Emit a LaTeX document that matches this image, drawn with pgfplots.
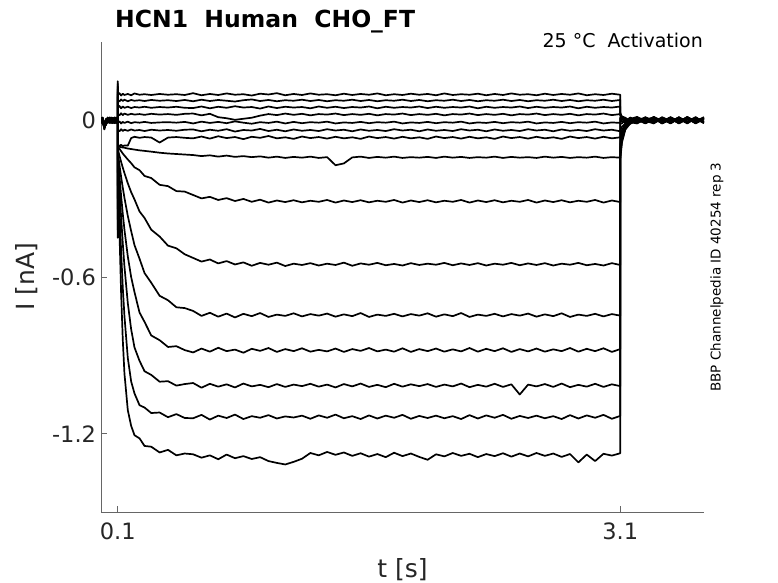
\documentclass[border=0pt]{standalone}
\usepackage{pgfplots}
\pgfplotsset{compat=1.18}
\usepackage{pgfplotstable}
\usepackage{fontspec}
\setmainfont{DejaVu Sans}
\definecolor{axgray}{gray}{0.4}
\definecolor{txt}{gray}{0.15}

\pgfplotstableread{
t c1 c2 c3 c4 c5 c6 c7 c8 c9 c10 c11 c12 c13 c14 c15
0.00 0.006 -0.004 0.010 -0.008 0.002 -0.011 0.005 0.009 -0.003 -0.010 0.007 0.000 0.004 -0.009 0.011
0.01 -0.005 0.008 -0.002 0.011 -0.009 0.004 -0.007 0.001 0.010 -0.006 0.003 -0.011 0.008 0.002 -0.004
0.02 -0.020 -0.028 -0.015 -0.032 -0.022 -0.018 -0.030 -0.025 -0.012 -0.027 -0.035 -0.019 -0.024 -0.016 -0.029
0.03 -0.010 0.003 -0.018 -0.006 0.002 -0.014 0.006 -0.009 -0.003 -0.016 0.001 -0.008 -0.012 0.004 -0.005
0.04 0.008 -0.006 0.004 0.010 -0.008 0.006 -0.002 0.011 -0.007 0.003 0.009 -0.004 0.000 -0.010 0.007
0.05 -0.003 0.009 -0.007 0.001 0.011 -0.005 0.008 -0.010 0.004 0.006 -0.009 0.010 -0.002 0.005 -0.008
0.06 0.010 -0.001 0.006 -0.009 0.004 0.008 -0.011 0.003 0.009 -0.004 0.002 -0.007 0.011 -0.003 0.001
0.07 -0.008 0.005 -0.010 0.007 -0.003 0.001 0.009 -0.006 -0.011 0.010 -0.005 0.004 -0.009 0.008 0.003
0.08 0.002 -0.009 0.011 -0.004 0.008 -0.010 0.003 0.007 0.001 -0.008 0.010 -0.002 0.005 -0.011 0.009
0.09 -0.006 0.004 -0.003 0.009 -0.011 0.007 -0.005 0.000 0.006 0.003 -0.007 0.011 -0.010 0.002 -0.004
0.10 0.004 -0.002 0.007 -0.005 0.003 -0.008 0.010 -0.004 0.002 0.008 -0.003 0.005 -0.006 0.009 -0.001
0.1001 0.150 0.140 0.130 0.120 0.110 0.100 0.090 -0.150 -0.200 -0.250 -0.300 -0.340 -0.380 -0.420 -0.450
0.102 0.099 0.076 0.050 0.023 -0.008 -0.038 -0.095 -0.100 -0.102 -0.115 -0.131 -0.140 -0.150 -0.170 -0.200
0.11 0.104 0.072 0.055 0.019 -0.004 -0.042 -0.098 -0.101 -0.109 -0.135 -0.170 -0.210 -0.250 -0.330 -0.420
0.12 0.095 0.080 0.046 0.027 -0.012 -0.034 -0.094 -0.103 -0.118 -0.159 -0.216 -0.288 -0.370 -0.500 -0.660
0.13 0.102 0.074 0.053 0.020 -0.006 -0.041 -0.099 -0.104 -0.127 -0.181 -0.258 -0.358 -0.470 -0.640 -0.840
0.14 0.097 0.079 0.048 0.026 -0.010 -0.036 -0.096 -0.105 -0.135 -0.202 -0.297 -0.419 -0.560 -0.750 -0.970
0.16 0.101 0.073 0.052 0.021 -0.005 -0.040 -0.097 -0.108 -0.150 -0.241 -0.366 -0.521 -0.700 -0.910 -1.110
0.18 0.096 0.078 0.047 0.025 -0.011 -0.035 -0.068 -0.110 -0.164 -0.275 -0.424 -0.600 -0.800 -1.000 -1.170
0.20 0.103 0.075 0.051 0.022 -0.007 -0.039 -0.063 -0.112 -0.180 -0.303 -0.478 -0.658 -0.870 -1.046 -1.206
0.23 0.098 0.077 0.049 0.024 -0.009 -0.037 -0.067 -0.115 -0.191 -0.349 -0.530 -0.736 -0.921 -1.091 -1.218
0.26 0.100 0.074 0.052 0.021 -0.006 -0.041 -0.064 -0.117 -0.213 -0.374 -0.585 -0.772 -0.961 -1.100 -1.247
0.30 0.097 0.078 0.048 0.025 -0.010 -0.036 -0.066 -0.120 -0.221 -0.419 -0.622 -0.824 -0.975 -1.121 -1.250
0.35 0.101 0.075 0.051 0.022 -0.008 -0.039 -0.085 -0.124 -0.247 -0.445 -0.672 -0.842 -1.001 -1.119 -1.272
0.40 0.098 0.077 0.049 0.024 -0.007 -0.037 -0.066 -0.127 -0.252 -0.480 -0.689 -0.868 -0.999 -1.137 -1.262
0.45 0.100 0.074 0.052 0.021 -0.009 -0.040 -0.064 -0.129 -0.271 -0.490 -0.716 -0.865 -1.016 -1.125 -1.283
0.50 0.097 0.078 0.048 0.025 -0.006 -0.036 -0.067 -0.131 -0.273 -0.513 -0.719 -0.880 -1.010 -1.140 -1.276
0.55 0.104 0.073 0.047 0.026 -0.012 -0.035 -0.069 -0.133 -0.286 -0.527 -0.730 -0.889 -1.006 -1.141 -1.279
0.60 0.096 0.079 0.053 0.019 -0.005 -0.042 -0.062 -0.137 -0.299 -0.541 -0.749 -0.874 -1.024 -1.128 -1.292
0.65 0.101 0.074 0.046 0.025 -0.010 -0.036 -0.070 -0.134 -0.293 -0.533 -0.737 -0.886 -1.009 -1.146 -1.283
0.70 0.097 0.078 0.052 0.012 -0.006 -0.040 -0.061 -0.139 -0.305 -0.548 -0.752 -0.871 -1.020 -1.131 -1.298
0.75 0.103 0.075 0.048 0.008 -0.011 -0.034 -0.068 -0.135 -0.298 -0.539 -0.740 -0.884 -1.011 -1.140 -1.280
0.80 0.098 0.072 0.054 0.002 -0.004 -0.043 -0.064 -0.140 -0.309 -0.552 -0.755 -0.878 -1.023 -1.127 -1.294
0.85 0.100 0.077 0.049 0.006 -0.009 -0.037 -0.072 -0.137 -0.301 -0.544 -0.741 -0.890 -1.008 -1.144 -1.286
0.90 0.095 0.080 0.051 0.010 -0.013 -0.039 -0.063 -0.141 -0.312 -0.557 -0.750 -0.875 -1.019 -1.133 -1.297
0.95 0.102 0.074 0.045 0.018 -0.007 -0.033 -0.067 -0.138 -0.304 -0.546 -0.738 -0.883 -1.013 -1.139 -1.290
1.00 0.099 0.078 0.053 0.024 -0.010 -0.041 -0.060 -0.143 -0.315 -0.553 -0.753 -0.872 -1.022 -1.129 -1.305
1.05 0.104 0.073 0.047 0.020 -0.005 -0.036 -0.069 -0.139 -0.307 -0.545 -0.744 -0.887 -1.010 -1.142 -1.312
1.10 0.096 0.077 0.052 0.026 -0.012 -0.042 -0.065 -0.144 -0.313 -0.558 -0.749 -0.876 -1.021 -1.134 -1.318
1.15 0.101 0.075 0.049 0.021 -0.006 -0.035 -0.071 -0.140 -0.306 -0.549 -0.739 -0.884 -1.012 -1.138 -1.308
1.20 0.097 0.079 0.051 0.025 -0.011 -0.040 -0.062 -0.143 -0.314 -0.554 -0.751 -0.873 -1.018 -1.131 -1.296
1.25 0.103 0.074 0.046 0.019 -0.007 -0.037 -0.068 -0.139 -0.308 -0.547 -0.742 -0.886 -1.009 -1.143 -1.274
1.30 0.098 0.078 0.053 0.024 -0.009 -0.041 -0.064 -0.144 -0.312 -0.556 -0.748 -0.879 -1.020 -1.130 -1.283
1.35 0.100 0.073 0.048 0.022 -0.005 -0.034 -0.070 -0.141 -0.305 -0.549 -0.740 -0.885 -1.012 -1.139 -1.270
1.40 0.096 0.077 0.052 0.026 -0.012 -0.039 -0.063 -0.172 -0.315 -0.554 -0.752 -0.874 -1.023 -1.127 -1.281
1.45 0.102 0.075 0.047 0.020 -0.008 -0.036 -0.069 -0.165 -0.307 -0.545 -0.743 -0.887 -1.010 -1.141 -1.272
1.50 0.097 0.079 0.051 0.024 -0.010 -0.042 -0.065 -0.142 -0.313 -0.557 -0.750 -0.876 -1.019 -1.133 -1.285
1.55 0.101 0.074 0.049 0.021 -0.006 -0.035 -0.071 -0.139 -0.306 -0.548 -0.738 -0.883 -1.008 -1.144 -1.275
1.60 0.098 0.078 0.053 0.025 -0.011 -0.040 -0.062 -0.144 -0.314 -0.553 -0.753 -0.872 -1.021 -1.130 -1.288
1.65 0.103 0.073 0.046 0.019 -0.007 -0.037 -0.068 -0.140 -0.308 -0.546 -0.744 -0.885 -1.013 -1.142 -1.278
1.70 0.096 0.077 0.052 0.024 -0.009 -0.041 -0.064 -0.143 -0.312 -0.555 -0.749 -0.878 -1.022 -1.131 -1.290
1.75 0.100 0.075 0.048 0.022 -0.005 -0.034 -0.070 -0.139 -0.305 -0.550 -0.741 -0.886 -1.009 -1.139 -1.273
1.80 0.097 0.079 0.051 0.026 -0.012 -0.039 -0.063 -0.144 -0.315 -0.556 -0.751 -0.873 -1.020 -1.128 -1.286
1.85 0.102 0.074 0.049 0.020 -0.008 -0.036 -0.069 -0.141 -0.307 -0.547 -0.742 -0.887 -1.011 -1.143 -1.276
1.90 0.098 0.078 0.053 0.024 -0.010 -0.042 -0.065 -0.143 -0.313 -0.554 -0.748 -0.876 -1.018 -1.132 -1.289
1.95 0.101 0.073 0.047 0.021 -0.006 -0.035 -0.071 -0.140 -0.306 -0.549 -0.739 -0.884 -1.010 -1.140 -1.300
2.00 0.096 0.077 0.052 0.025 -0.011 -0.040 -0.062 -0.144 -0.314 -0.553 -0.752 -0.874 -1.021 -1.131 -1.279
2.05 0.103 0.075 0.048 0.019 -0.007 -0.037 -0.068 -0.139 -0.308 -0.546 -0.743 -0.886 -1.012 -1.141 -1.287
2.10 0.097 0.079 0.051 0.024 -0.009 -0.041 -0.064 -0.143 -0.312 -0.555 -0.750 -0.877 -1.019 -1.133 -1.274
2.15 0.100 0.074 0.049 0.022 -0.005 -0.034 -0.070 -0.140 -0.305 -0.548 -0.738 -0.885 -1.008 -1.144 -1.285
2.20 0.098 0.078 0.053 0.026 -0.012 -0.039 -0.063 -0.144 -0.315 -0.554 -0.753 -0.872 -1.022 -1.129 -1.277
2.25 0.102 0.073 0.046 0.020 -0.008 -0.036 -0.069 -0.141 -0.307 -0.547 -0.744 -0.886 -1.013 -1.142 -1.290
2.30 0.096 0.077 0.052 0.024 -0.010 -0.042 -0.065 -0.143 -0.313 -0.556 -0.749 -0.875 -1.020 -1.130 -1.278
2.35 0.101 0.075 0.048 0.021 -0.006 -0.035 -0.071 -0.139 -0.306 -0.549 -0.741 -0.884 -1.009 -1.139 -1.286
2.40 0.097 0.079 0.051 0.025 -0.011 -0.040 -0.062 -0.144 -0.314 -0.553 -0.751 -0.873 -1.021 -1.128 -1.275
2.45 0.103 0.074 0.049 0.019 -0.007 -0.037 -0.068 -0.140 -0.308 -0.546 -0.742 -0.887 -1.011 -1.143 -1.288
2.50 0.098 0.078 0.053 0.024 -0.009 -0.041 -0.064 -0.143 -0.312 -0.555 -0.748 -0.876 -1.050 -1.132 -1.276
2.55 0.100 0.073 0.047 0.022 -0.005 -0.034 -0.070 -0.141 -0.305 -0.548 -0.740 -0.885 -1.012 -1.140 -1.287
2.60 0.096 0.077 0.052 0.026 -0.012 -0.039 -0.063 -0.144 -0.315 -0.554 -0.752 -0.874 -1.019 -1.131 -1.274
2.65 0.102 0.075 0.048 0.020 -0.008 -0.036 -0.069 -0.139 -0.307 -0.547 -0.743 -0.886 -1.010 -1.141 -1.285
2.70 0.097 0.079 0.051 0.024 -0.010 -0.042 -0.065 -0.143 -0.313 -0.556 -0.750 -0.877 -1.021 -1.133 -1.276
2.75 0.101 0.074 0.049 0.021 -0.006 -0.035 -0.071 -0.140 -0.306 -0.549 -0.739 -0.884 -1.008 -1.144 -1.289
2.80 0.098 0.078 0.053 0.025 -0.011 -0.040 -0.062 -0.144 -0.314 -0.553 -0.753 -0.872 -1.022 -1.129 -1.278
2.85 0.103 0.073 0.046 0.019 -0.007 -0.037 -0.068 -0.141 -0.308 -0.546 -0.744 -0.886 -1.013 -1.142 -1.310
2.90 0.096 0.077 0.052 0.024 -0.009 -0.041 -0.064 -0.143 -0.312 -0.555 -0.749 -0.875 -1.020 -1.130 -1.280
2.95 0.100 0.075 0.048 0.022 -0.005 -0.034 -0.070 -0.139 -0.305 -0.550 -0.741 -0.884 -1.009 -1.139 -1.305
3.00 0.097 0.079 0.051 0.026 -0.012 -0.039 -0.063 -0.144 -0.315 -0.556 -0.751 -0.873 -1.021 -1.128 -1.277
3.05 0.102 0.074 0.049 0.020 -0.008 -0.036 -0.069 -0.141 -0.307 -0.547 -0.742 -0.887 -1.011 -1.143 -1.284
3.10 0.098 0.078 0.053 0.024 -0.010 -0.042 -0.065 -0.143 -0.313 -0.554 -0.748 -0.876 -1.018 -1.132 -1.275
3.1001 0.030 0.025 0.022 0.018 0.012 0.008 -0.010 -0.040 -0.070 -0.090 -0.110 -0.120 -0.130 -0.140 -0.150
3.11 0.012 0.008 0.015 0.005 0.010 -0.003 -0.012 -0.025 -0.038 -0.050 -0.058 -0.065 -0.072 -0.078 -0.085
3.13 0.006 -0.004 0.010 -0.007 0.003 -0.010 0.004 -0.012 -0.015 -0.020 -0.024 -0.028 -0.030 -0.033 -0.036
3.16 -0.008 0.011 -0.003 0.007 -0.012 0.005 -0.006 0.009 -0.004 -0.010 0.002 -0.013 -0.007 0.004 -0.011
3.20 0.010 -0.006 0.012 -0.010 0.004 0.013 -0.009 0.002 0.011 -0.005 0.008 0.001 -0.012 0.009 0.003
3.25 -0.005 0.009 -0.011 0.003 -0.008 -0.002 0.012 -0.010 -0.006 0.011 -0.004 0.010 0.005 -0.009 -0.012
3.30 0.012 -0.010 0.006 0.011 0.009 -0.012 -0.003 0.007 0.013 -0.008 0.010 -0.007 -0.004 0.012 0.006
3.35 -0.009 0.005 -0.004 -0.012 -0.006 0.010 0.008 -0.011 -0.002 0.006 -0.012 0.012 0.009 -0.005 -0.010
3.40 0.007 -0.012 0.011 0.004 0.012 -0.007 -0.010 0.010 0.008 -0.011 0.005 -0.003 -0.009 0.011 0.004
3.45 -0.011 0.008 -0.008 -0.009 -0.003 0.011 0.006 -0.005 -0.012 0.009 -0.007 0.011 0.012 -0.008 -0.006
3.50 0.009 -0.004 0.013 0.010 0.007 -0.009 -0.012 0.012 0.005 -0.006 0.011 -0.010 -0.005 0.010 0.012
3.55 -0.006 0.011 -0.007 -0.005 -0.011 0.006 0.009 -0.008 -0.010 0.012 -0.003 0.008 0.010 -0.012 -0.004
3.60 0.004 -0.008 0.010 0.008 0.005 -0.011 -0.004 0.006 0.009 -0.007 0.012 -0.006 -0.011 0.007 0.010
}\data

\begin{document}
\begin{tikzpicture}
\begin{axis}[
  name=ax, at={(0,0)}, anchor=south west,
  width=603bp, height=470bp, scale only axis,
  xmin=0, xmax=3.6, ymin=-1.5, ymax=0.3,
  axis x line*=bottom, axis y line*=left,
  axis line style={axgray, line width=0.6pt, -},
  xtick={0.1,3.1}, xticklabels={0.1,3.1},
  ytick={-1.2,-0.6,0}, yticklabels={-1.2,-0.6,0},
  tick align=inside, major tick length=6bp,
  tick style={axgray, line width=0.6pt},
  ticklabel style={font=\fontsize{22.5bp}{27bp}\selectfont, text=txt},
  xticklabel style={yshift=-7bp},
  yticklabel style={xshift=-1.5bp},
  clip=true,
]
\pgfplotsinvokeforeach{1,...,15}{
  \addplot[black, line width=1.7bp, line join=round] table[x index=0, y index=#1] {\data};
}
\end{axis}
\node[anchor=base west, inner sep=0, text=black, font=\fontsize{23.5bp}{28bp}\selectfont\bfseries]
  at ([xshift=14bp, yshift=14bp]ax.north west) {HCN1~~Human~~CHO\_FT};
\node[anchor=base east, inner sep=0, text=black, font=\fontsize{19bp}{23bp}\selectfont]
  at ([xshift=-1bp, yshift=-6bp]ax.north east) {25 °C~~Activation};
\node[rotate=90, inner sep=0, text=black, font=\fontsize{13.5bp}{16bp}\selectfont]
  at ([xshift=13bp]ax.east) {BBP Channelpedia ID 40254 rep 3};
\node[anchor=base, inner sep=0, text=txt, font=\fontsize{25bp}{30bp}\selectfont]
  at ([yshift=-65bp]ax.south) {t [s]};
\node[rotate=90, inner sep=0, text=txt, font=\fontsize{25bp}{30bp}\selectfont]
  at ([xshift=-74bp]ax.west) {I [nA]};
\pgfresetboundingbox
\path[use as bounding box] ([xshift=-101bp,yshift=-71bp]ax.south west) rectangle ([xshift=74bp,yshift=42bp]ax.north east);
\end{tikzpicture}
\end{document}
